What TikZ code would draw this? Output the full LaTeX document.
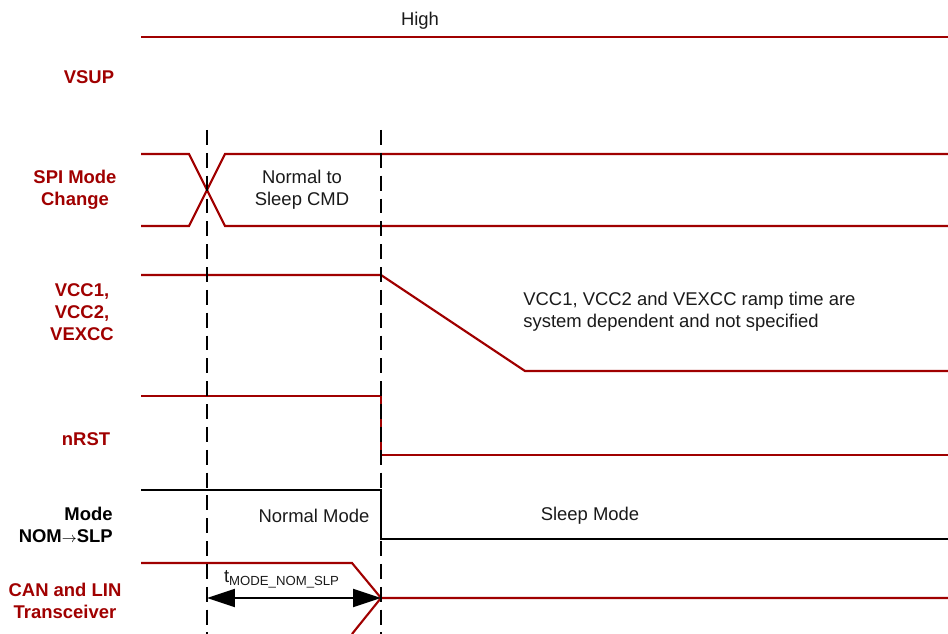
\documentclass[tikz,border=0pt]{standalone}
\usepackage{fontspec}
\setmainfont{Liberation Sans}
\usetikzlibrary{arrows.meta,positioning}
\definecolor{sigred}{HTML}{A00000}
\definecolor{txtgray}{HTML}{1A1A1A}

\begin{document}
\begin{tikzpicture}[x=0.02cm,y=-0.02cm,
    every node/.style={font=\fontsize{10.5}{12.5}\selectfont,inner sep=0pt},
    sig/.style={sigred,line width=1.2pt},
    sigblk/.style={black,line width=1.2pt},
    marker/.style={black,line width=1.2pt,dash pattern=on 8.5pt off 4.5pt},
    signame/.style={align=center,font=\fontsize{10.5}{12.5}\selectfont\bfseries,text=sigred},
    note/.style={align=center,text=txtgray}]
  \useasboundingbox (0,0) rectangle (948,634);

  % signal names
  \node[signame] (vsup) at (89,77) {VSUP};
  \node[signame] (spi) at (75,190) {SPI Mode\\Change};
  \node[signame] (vcc) at (82,312) {VCC1,\\VCC2,\\VEXCC};
  \node[signame] (nrst) at (86,439) {nRST};
  \node[signame,anchor=east,align=right,text=black] (mode) at (113,525) {Mode\\NOM{\fontsize{8}{8}\selectfont$\rightarrow$}SLP};
  \node[signame] (xcvr) at (65,601) {CAN and LIN\\Transceiver};

  % VSUP
  \draw[sig] (141,37) -- (948,37);
  \node[note] (high) at (420,21) {High};

  % SPI mode change
  \draw[sig] (141,154) -- (189,154) -- (225,226) -- (948,226);
  \draw[sig] (141,226) -- (189,226) -- (225,154) -- (948,154);
  \node[note] (cmd) at (302,190) {Normal to\\Sleep CMD};

  % VCC1, VCC2, VEXCC
  \draw[sig] (141,275) -- (381,275) -- (525,371) -- (948,371);
  \node[note,anchor=west,align=left] (ramp) at (523,312) {VCC1, VCC2 and VEXCC ramp time are\\system dependent and not specified};

  % nRST
  \draw[sig] (141,396) -- (381,396) -- (381,455) -- (948,455);

  % mode
  \draw[sigblk] (141,490) -- (381,490) -- (381,539) -- (948,539);
  \node[note] (nom) at (314,516) {Normal Mode};
  \node[note] (slp) at (590,516) {Sleep Mode};

  % CAN and LIN transceiver
  \draw[sig] (141,563) -- (352,563) -- (381,598) -- (948,598);
  \draw[sig] (381,598) -- (352,634);

  % timing markers
  \coordinate (t0) at (207,598);
  \coordinate (t1) at (381,598);
  \draw[marker] (207,130) -- (207,634);
  \draw[marker] (381,130) -- (381,634);
  \draw[black,line width=1.2pt,{Triangle[length=15.9pt,width=10.2pt]}-{Triangle[length=15.9pt,width=10.2pt]}] (t0) -- (t1);
  \node[note] (tmode) at (282,579) {t\textsubscript{\fontsize{7.5}{8}\selectfont MODE\_NOM\_SLP}};
\end{tikzpicture}
\end{document}
